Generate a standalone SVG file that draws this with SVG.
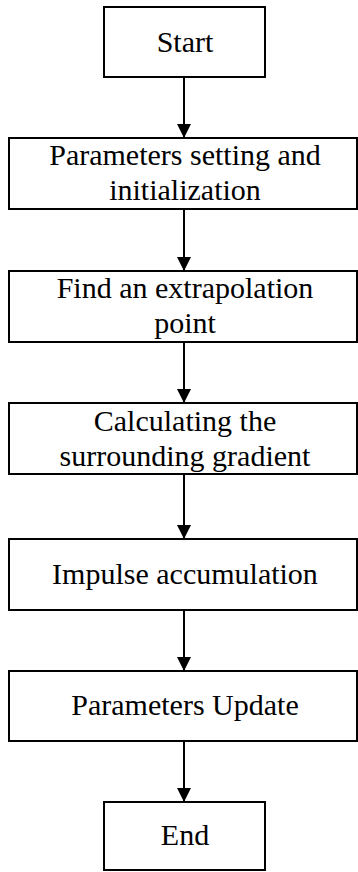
<svg xmlns="http://www.w3.org/2000/svg" width="358" height="872" viewBox="0 0 358 872">
<style>
.box{fill:#fff;stroke:#000;stroke-width:2}
.t{font-family:'Liberation Serif',serif;font-size:30px;fill:#000;text-anchor:middle}
.c{stroke:#000;stroke-width:2;fill:none}
</style>
<defs>
<marker id="ah" markerUnits="userSpaceOnUse" markerWidth="14" markerHeight="14" refX="14" refY="7" orient="auto">
<path d="M0,0 L14,7 L0,14 Z" fill="#000"/>
</marker>
</defs>
<rect width="358" height="872" fill="#fff"/>
<g id="start"><rect class="box" x="104" y="7" width="161" height="70"/><text class="t" x="185" y="52">Start</text></g>
<g id="init"><rect class="box" x="9" y="138" width="348" height="71"/><text class="t" x="185" y="165">Parameters setting and</text><text class="t" x="185" y="200">initialization</text></g>
<g id="extrap"><rect class="box" x="9" y="271" width="348" height="71"/><text class="t" x="185" y="298">Find an extrapolation</text><text class="t" x="185" y="333">point</text></g>
<g id="grad"><rect class="box" x="9" y="403" width="348" height="71"/><text class="t" x="185" y="431">Calculating the</text><text class="t" x="185" y="466">surrounding gradient</text></g>
<g id="impulse"><rect class="box" x="9" y="539" width="348" height="71"/><text class="t" x="185" y="584">Impulse accumulation</text></g>
<g id="update"><rect class="box" x="9" y="671" width="348" height="70"/><text class="t" x="185" y="715">Parameters Update</text></g>
<g id="end"><rect class="box" x="104" y="802" width="161" height="68"/><text class="t" x="185" y="845">End</text></g>
<g id="connectors">
<line class="c" x1="184" y1="77" x2="184" y2="138" marker-end="url(#ah)"/>
<line class="c" x1="184" y1="209" x2="184" y2="271" marker-end="url(#ah)"/>
<line class="c" x1="184" y1="342" x2="184" y2="403" marker-end="url(#ah)"/>
<line class="c" x1="184" y1="474" x2="184" y2="539" marker-end="url(#ah)"/>
<line class="c" x1="184" y1="610" x2="184" y2="671" marker-end="url(#ah)"/>
<line class="c" x1="184" y1="741" x2="184" y2="802" marker-end="url(#ah)"/>
</g>
</svg>
